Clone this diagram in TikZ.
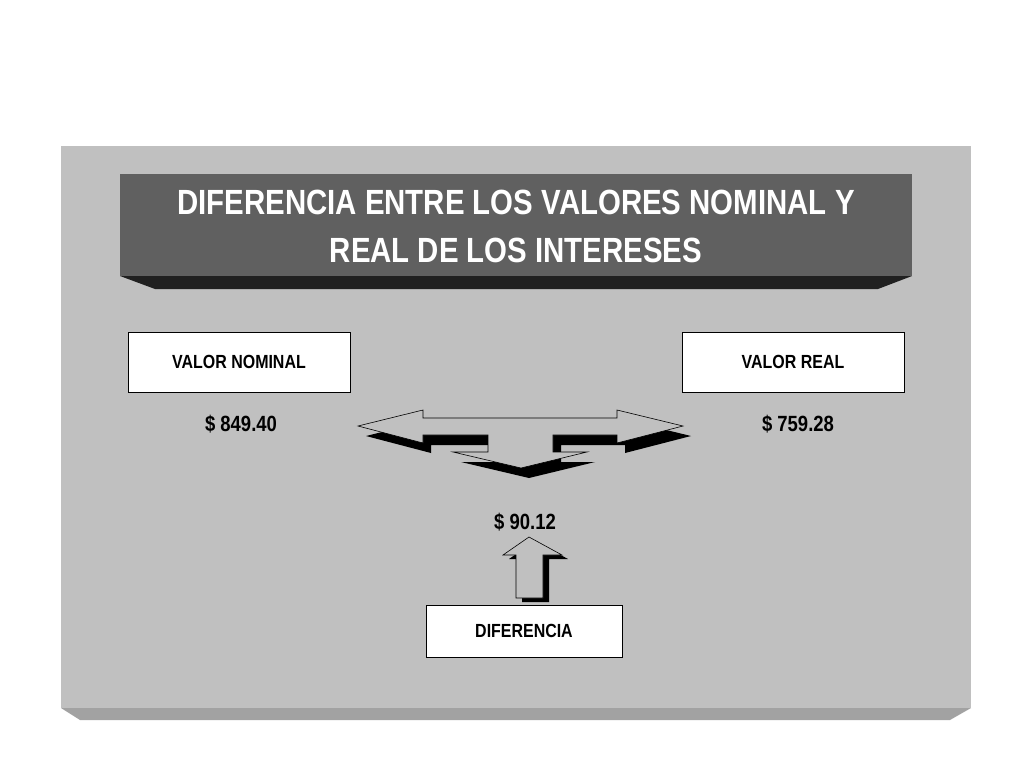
\documentclass[tikz,border=0pt]{standalone}
\usepackage{fontspec}
\setmainfont{Liberation Sans}[FakeStretch=0.84]
\begin{document}
\begin{tikzpicture}[x=1pt,y=-1pt,
  lbox/.style={draw=black,fill=white,line width=0.6pt,minimum width=#1,minimum height=60pt,inner sep=0pt,font=\bfseries\fontsize{19}{22}\selectfont},
  money/.style={font=\bfseries\fontsize{22}{26}\selectfont},
  shad/.style={fill=black},
  arr/.style={draw=black,line width=0.6pt,fill=panel}]
\definecolor{panel}{HTML}{C0C0C0}
\definecolor{bevel}{HTML}{A2A2A2}
\definecolor{titlec}{HTML}{606060}
\definecolor{titleb}{HTML}{202020}
\useasboundingbox (0,0) rectangle (1024,768);
\fill[white] (0,0) rectangle (1024,768);
% panel
\fill[bevel] (61,708) -- (971,708) -- (950,720) -- (80,720) -- cycle;
\fill[panel] (61,146) rectangle (971,708);
% title
\fill[titleb] (120,276) -- (912,276) -- (878,289) -- (155,289) -- cycle;
\fill[titlec] (120,174) rectangle (912,276);
\node[text=white,align=center,font=\bfseries\fontsize{35}{48}\selectfont] (title) at (516,226) {DIFERENCIA ENTRE LOS VALORES NOMINAL Y\\REAL DE LOS INTERESES};
% boxes
\node[lbox=222pt] (nom) at (239,362) {VALOR NOMINAL};
\node[lbox=222pt] (real) at (793,362) {VALOR REAL};
\node[lbox=196pt,minimum height=52pt] (dif) at (524,631) {DIFERENCIA};
\node[money] (vn) at (241,424) {\$ 849.40};
\node[money] (vr) at (798,424) {\$ 759.28};
\node[money] (vd) at (525,522) {\$ 90.12};
% triple arrow
\def\triarrow{(358,426) -- (423,410) -- (423,418) -- (617,418) -- (617,410) -- (683,426) -- (617,443) -- (617,435) -- (553,435) -- (553,452) -- (587,452) -- (521,468) -- (453,452) -- (488,452) -- (488,435) -- (423,435) -- (423,443) -- cycle}
\fill[shad,shift={(8,10)}] \triarrow;
\path[arr] \triarrow;
% up arrow
\def\uparr{(529,537) -- (562,555) -- (543,555) -- (543,598) -- (516,598) -- (516,555) -- (503,555) -- cycle}
\fill[shad,shift={(6,4)}] \uparr;
\path[arr] \uparr;
\end{tikzpicture}
\end{document}
